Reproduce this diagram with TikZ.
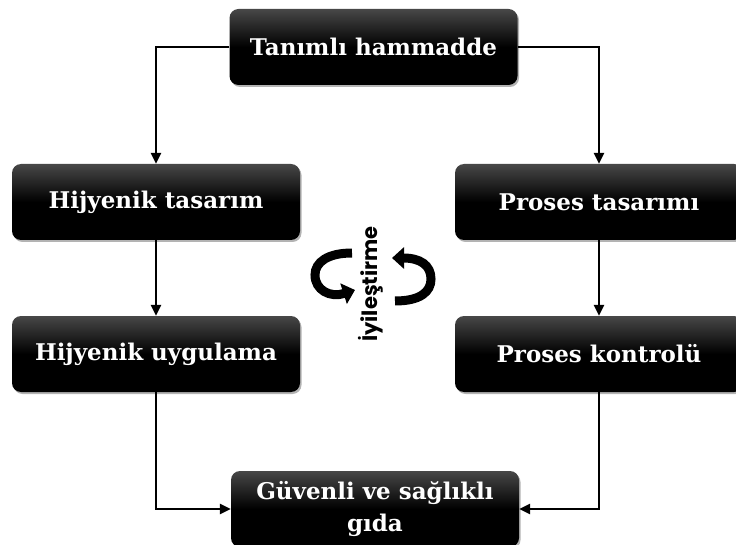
\documentclass[tikz,border=0pt]{standalone}
\usepackage{fontspec}
\setmainfont{DejaVu Serif}
\newfontfamily\gothic{Poppins}
\usetikzlibrary{arrows.meta,shadows}
\begin{document}
\begin{tikzpicture}[x=1pt,y=-1pt,
  stage/.style={rounded corners=9pt, minimum width=288pt, minimum height=76pt,
    inner sep=0pt, text=white, align=center,
    font=\bfseries\fontsize{23}{32}\selectfont,
    top color=black!72, bottom color=black, middle color=black,
    drop shadow={shadow xshift=1.5pt,shadow yshift=-2pt,fill=black!50,opacity=0.6}},
  flow/.style={line width=2.6pt, -{Triangle[length=11pt,width=10pt]}},
  turn/.style={line width=9pt, line cap=butt, -{Triangle[length=12pt,width=21pt]}}]
\useasboundingbox (0,0) rectangle (736,545);
\clip (0,0) rectangle (736,545);

% stages
\node[stage] (raw)  at (373.5,47) {Tanımlı hammadde};
\node[stage] (hd)   at (156,202)  {Hijyenik tasarım};
\node[stage] (hp)   at (156,354)  {Hijyenik uygulama};
\node[stage] (pd)   at (599,202)  {Proses tasarımı};
\node[stage] (pc)   at (599,354)  {Proses kontrolü};
\node[stage] (food) at (375,509)  {Güvenli ve sağlıklı\\gıda};

% flow connectors
\draw[flow] (raw.west) -| (hd.north);
\draw[flow] (raw.east) -| (pd.north);
\draw[flow] (hd.south) -- (hp.north);
\draw[flow] (pd.south) -- (pc.north);
\draw[flow] (hp.south) |- (food.west);
\draw[flow] (pc.south) |- (food.east);

% improvement cycle in the centre
\node[rotate=90, font=\gothic\bfseries\fontsize{21}{21}\selectfont] (improve) at (371,284) {İyileştirme};
\draw[turn] (352,253) .. controls (328,253) and (315,262) .. (315,275)
                      .. controls (315,290) and (330,298) .. (355,290);
\draw[turn] (395,301) .. controls (420,301) and (431,292) .. (431,279)
                      .. controls (431,265) and (420,258) .. (392,258);
\end{tikzpicture}
\end{document}
